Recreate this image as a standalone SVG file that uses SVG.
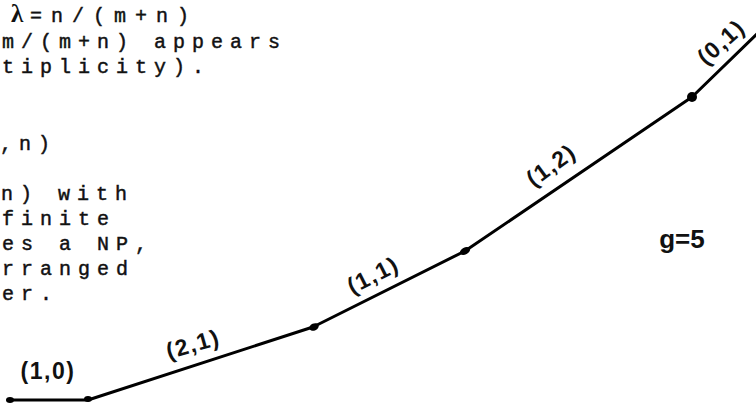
<svg xmlns="http://www.w3.org/2000/svg" width="756" height="403" viewBox="0 0 756 403">
<style>
.tw{font-family:"Liberation Mono","Courier New",monospace;font-size:20px;letter-spacing:7px;fill:#111;stroke:#111;stroke-width:0.45}
.hw{font-family:"Liberation Sans",Arial,sans-serif;font-size:23px;font-weight:bold;letter-spacing:1.5px;fill:#111}
.edge{fill:none;stroke:#000;stroke-width:3;stroke-linejoin:round;stroke-linecap:round}
.v{fill:#000}
</style>
<rect width="756" height="403" fill="#fff"/>
<g id="text">
<text x="11" y="22" style="font-family:'Liberation Serif',serif;font-size:25px;font-weight:bold;fill:#111">λ</text>
<text class="tw" x="30" y="22" style="letter-spacing:9px">=n/(m+n)</text>
<text class="tw" x="2" y="48">m/(m+n) appears</text>
<text class="tw" x="2" y="73">tiplicity).</text>
<text class="tw" x="0" y="150">,n)</text>
<text class="tw" x="1" y="200">n) with</text>
<text class="tw" x="2" y="225">finite</text>
<text class="tw" x="2" y="250">es a NP,</text>
<text class="tw" x="2" y="275">rranged</text>
<text class="tw" x="2" y="300">er.</text>
</g>
<g id="connectors">
<polyline class="edge" points="8,400 88,400 313,327 465,251 692,97 758,33"/>
</g>
<g id="v0"><ellipse class="v" cx="10" cy="400" rx="4" ry="3"/></g>
<g id="v1"><ellipse class="v" cx="88" cy="399" rx="4" ry="3"/></g>
<g id="v2"><ellipse class="v" cx="314" cy="327" rx="5" ry="3.5" transform="rotate(-25 314 327)"/></g>
<g id="v3"><ellipse class="v" cx="465" cy="251" rx="5.5" ry="3.5" transform="rotate(-28 465 251)"/></g>
<g id="v4"><circle class="v" cx="692" cy="97" r="5"/></g>
<g id="labels">
<text class="hw" x="48" y="379" text-anchor="middle">(1,0)</text>
<text class="hw" x="193" y="352" text-anchor="middle" transform="rotate(-16 193 344)">(2,1)</text>
<text class="hw" x="373" y="283" text-anchor="middle" transform="rotate(-27 373 275)">(1,1)</text>
<text class="hw" x="551" y="173" text-anchor="middle" transform="rotate(-36 551 165)">(1,2)</text>
<text class="hw" x="721" y="50" text-anchor="middle" transform="rotate(-42 721 42)">(0,1)</text>
<text class="hw" x="682" y="248" text-anchor="middle" style="font-size:26px;letter-spacing:0">g=5</text>
</g>
</svg>
